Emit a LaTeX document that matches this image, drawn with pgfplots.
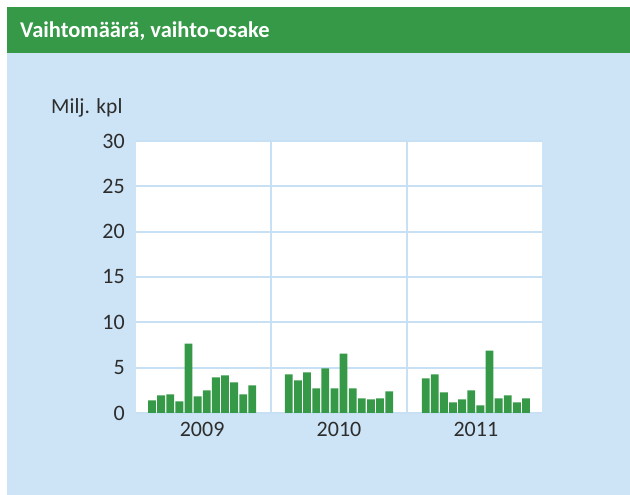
\documentclass[border=0pt]{standalone}
\usepackage{fontspec}
\setmainfont{Carlito}
\usepackage{pgfplots}
\pgfplotsset{compat=1.18}
\definecolor{bargreen}{RGB}{53,153,72}
\definecolor{bgblue}{RGB}{205,228,246}
\definecolor{gridblue}{RGB}{200,224,244}
\definecolor{txt}{RGB}{45,45,45}
\begin{document}
\begin{tikzpicture}[x=1pt,y=1pt]
\useasboundingbox (0,0) rectangle (630,495);
\fill[white] (0,0) rectangle (630,495);
\fill[bgblue] (7,0) rectangle (630,442);
\fill[bargreen] (7,442) rectangle (630,488);
\node[anchor=base west,text=white,font=\fontsize{22.5}{26}\selectfont\bfseries,inner sep=0] at (20,457.7) {Vaihtomäärä, vaihto-osake};
\node[anchor=base west,text=txt,font=\fontsize{21.5}{26}\selectfont,inner sep=0] at (51,381.7) {Milj. kpl};
\begin{axis}[
  at={(136pt,82pt)}, anchor=south west,
  scale only axis, width=406pt, height=272pt,
  xmin=-0.75, xmax=43.75, ymin=0, ymax=30,
  axis background/.style={fill=white},
  axis line style={draw=none},
  major tick length=0pt,
  ytick={0,5,10,15,20,25,30},
  ymajorgrids, xmajorgrids,
  grid style={gridblue, line width=2pt},
  xtick={14,29}, xticklabels={},
  extra x ticks={6.5,21.5,36.5},
  extra x tick labels={2009,2010,2011},
  extra x tick style={grid=none, xticklabel style={yshift=-5.7pt}},
  tick label style={text=txt, font=\fontsize{22}{26}\selectfont},
  yticklabel style={xshift=-7.7pt},
  /pgf/number format/assume math mode=true,
  ybar, bar width=0.86,
]
\addplot[fill=bargreen, draw=none, bar shift=0pt] table {
x y
1 1.39
2 1.94
3 2.05
4 1.28
5 7.66
6 1.83
7 2.49
8 3.92
9 4.14
10 3.37
11 2.05
12 3.04
16 4.25
17 3.59
18 4.47
19 2.71
20 4.91
21 2.71
22 6.56
23 2.71
24 1.61
25 1.50
26 1.61
27 2.38
31 3.81
32 4.25
33 2.27
34 1.17
35 1.50
36 2.49
37 0.84
38 6.89
39 1.61
40 1.94
41 1.17
42 1.61
};
\end{axis}
\end{tikzpicture}
\end{document}
